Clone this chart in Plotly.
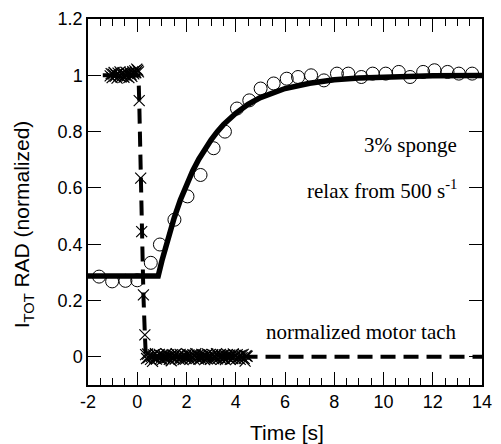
import plotly.graph_objects as go

# Fit (solid line)
fit_t = [-2.0, 0.85, 1.0, 1.25, 1.5, 1.75, 2.0, 2.25, 2.5, 2.75, 3.0, 3.25, 3.5, 4.0, 4.5, 5.0,
         6.0, 7.0, 8.0, 9.0, 10.0, 12.0, 14.0]
fit_y = [0.287, 0.287, 0.341, 0.423, 0.494, 0.557, 0.612, 0.660, 0.702, 0.739, 0.771, 0.800,
         0.825, 0.865, 0.897, 0.921, 0.953, 0.972, 0.984, 0.990, 0.994, 0.998, 0.999]

# Measured intensity (open circles)
circ_t = [-1.55, -1.02, -0.48, 0.0, 0.55, 0.92, 1.51, 2.04, 2.57, 3.10, 3.56, 4.05, 4.55,
          5.01, 5.54, 6.07, 6.53, 7.06, 7.58, 8.11, 8.57, 9.10, 9.56, 10.09, 10.62, 11.08,
          11.61, 12.07, 12.60, 13.06, 13.60]
circ_y = [0.285, 0.268, 0.270, 0.272, 0.334, 0.399, 0.487, 0.570, 0.646, 0.741, 0.800, 0.882,
          0.911, 0.953, 0.971, 0.988, 0.994, 1.000, 0.982, 1.006, 1.006, 0.994, 1.006, 1.006,
          1.012, 0.994, 1.012, 1.018, 1.012, 1.006, 1.006]

# Motor tach (crosses): before the stop, the drop, and after the stop
tach_hi_t = [-1.10, -1.06, -1.02, -0.98, -0.94, -0.90, -0.86, -0.82, -0.78, -0.74, -0.70,
             -0.66, -0.62, -0.58, -0.54, -0.50, -0.46, -0.42, -0.38, -0.34, -0.30, -0.26,
             -0.22, -0.18, -0.14, -0.10, -0.06, -0.02, 0.02, 0.05]
tach_hi_y = [0.998, 1.006, 0.992, 1.004, 1.010, 0.996, 1.002, 0.990, 1.008, 0.999, 1.012,
             0.994, 1.004, 1.009, 0.993, 1.001, 1.011, 0.997, 1.006, 0.992, 1.010, 1.003,
             0.996, 1.013, 1.005, 1.016, 1.009, 1.022, 1.018, 1.012]
tach_drop_t = [0.08, 0.14, 0.18, 0.25, 0.31]
tach_drop_y = [0.91, 0.635, 0.445, 0.22, 0.078]
tach_lo_t = [0.34, 0.38, 0.42, 0.46, 0.50, 0.54, 0.58, 0.62, 0.66, 0.70, 0.74, 0.78, 0.82,
             0.86, 0.90, 0.94, 0.98, 1.02, 1.06, 1.10, 1.14, 1.18, 1.22, 1.26, 1.30, 1.34,
             1.38, 1.42, 1.46, 1.50, 1.54, 1.58, 1.62, 1.66, 1.70, 1.74, 1.78, 1.82, 1.86,
             1.90, 1.94, 1.98, 2.02, 2.06, 2.10, 2.14, 2.18, 2.22, 2.26, 2.30, 2.34, 2.38,
             2.42, 2.46, 2.50, 2.54, 2.58, 2.62, 2.66, 2.70, 2.74, 2.78, 2.82, 2.86, 2.90,
             2.94, 2.98, 3.02, 3.06, 3.10, 3.14, 3.18, 3.22, 3.26, 3.30, 3.34, 3.38, 3.42,
             3.46, 3.50, 3.54, 3.58, 3.62, 3.66, 3.70, 3.74, 3.78, 3.82, 3.86, 3.90, 3.94,
             3.98, 4.02, 4.06, 4.10, 4.14, 4.18, 4.22, 4.26, 4.30, 4.34, 4.38, 4.42, 4.46]
tach_lo_y = [0.008, -0.006, 0.010, -0.003, 0.005, -0.009, 0.002, -0.016, 0.007, -0.004,
             0.011, -0.008, 0.003, -0.002, 0.009, -0.007, 0.004, -0.010, 0.006, 0.000,
             -0.005, 0.010, -0.003, 0.007, -0.009, 0.002, -0.014, 0.008, -0.004, 0.005,
             -0.008, 0.011, -0.002, 0.004, -0.007, 0.009, -0.005, 0.003, -0.010, 0.006,
             0.001, -0.006, 0.010, -0.003, 0.007, -0.009, 0.004, -0.001, 0.008, -0.007,
             0.002, 0.011, -0.004, 0.005, -0.008, 0.003, -0.006, 0.009, -0.002, 0.006,
             -0.010, 0.004, -0.005, 0.010, -0.003, 0.007, -0.009, 0.001, 0.008, -0.006,
             0.003, -0.004, 0.011, -0.007, 0.005, -0.002, 0.009, -0.008, 0.004, -0.005,
             0.007, -0.010, 0.002, 0.008, -0.003, 0.006, -0.009, 0.004, -0.006, 0.010,
             -0.002, 0.005, -0.007, 0.008, -0.004, 0.003, -0.009, 0.006, -0.003, 0.009,
             -0.006, -0.015, 0.004, 0.002]

# Tach trend (dashed line)
dash_t = [-1.4, 0.05, 0.08, 0.14, 0.18, 0.25, 0.31, 0.35, 14.0]
dash_y = [1.0, 1.0, 0.91, 0.635, 0.445, 0.22, 0.078, 0.0, 0.0]

x_ticks = [-2, 0, 2, 4, 6, 8, 10, 12, 14]
y_ticks = [0, 0.2, 0.4, 0.6, 0.8, 1, 1.2]

tach_t = tach_hi_t + tach_drop_t + tach_lo_t
tach_y = tach_hi_y + tach_drop_y + tach_lo_y

fig = go.Figure()
fig.add_trace(go.Scatter(x=dash_t, y=dash_y, mode="lines",
                         line=dict(color="black", width=4, dash="15px,8px")))
fig.add_trace(go.Scatter(x=tach_t, y=tach_y, mode="markers",
                         marker=dict(symbol="x-thin-open", size=11, color="black",
                                     line=dict(color="black", width=1.2))))
fig.add_trace(go.Scatter(x=circ_t, y=circ_y, mode="markers",
                         marker=dict(symbol="circle-open", size=13, color="black",
                                     line=dict(color="black", width=1))))
fig.add_trace(go.Scatter(x=fit_t, y=fit_y, mode="lines",
                         line=dict(color="black", width=5.5)))

sans = "Liberation Sans, Arial, sans-serif"
serif = "Liberation Serif, Times New Roman, serif"

fig.update_layout(
    width=501, height=444,
    margin=dict(l=88, r=9, t=17, b=59),
    paper_bgcolor="white", plot_bgcolor="white",
    showlegend=False,
    font=dict(family=sans, size=18, color="black"),
    xaxis=dict(range=[-2, 14], tickvals=x_ticks, ticktext=[str(v) for v in x_ticks],
               ticks="inside", ticklen=13, tickwidth=1.3, tickcolor="black",
               showline=True, linecolor="black", linewidth=1.5, mirror="allticks",
               showgrid=False, zeroline=False,
               minor=dict(dtick=0.5, ticks="inside", ticklen=7, tickwidth=1.3,
                          tickcolor="black", showgrid=False),
               tickfont=dict(size=18, family=sans)),
    yaxis=dict(range=[-0.1, 1.2], tickvals=y_ticks,
               ticktext=["0", "0.2", "0.4", "0.6", "0.8", "1", "1.2"],
               ticks="inside", ticklen=13, tickwidth=1.3, tickcolor="black",
               showline=True, linecolor="black", linewidth=1.5, mirror="ticks",
               showgrid=False, zeroline=False,
               tickfont=dict(size=18, family=sans)),
    annotations=[
        dict(text="Time [s]", xref="paper", yref="paper", x=0.505, y=-0.13,
             xanchor="center", yanchor="middle", showarrow=False,
             font=dict(size=21, family=sans)),
        dict(text="I<sub>TOT</sub> RAD (normalized)", xref="paper", yref="paper",
             x=-0.164, y=0.44, xanchor="center", yanchor="middle", textangle=-90,
             showarrow=False, font=dict(size=21, family=sans)),
        dict(text="3% sponge", x=13.05, y=0.752, xanchor="right", yanchor="middle",
             showarrow=False, font=dict(size=21, family=serif)),
        dict(text="relax from 500 s<sup>-1</sup>", x=13.05, y=0.593, xanchor="right",
             yanchor="middle", showarrow=False, font=dict(size=21, family=serif)),
        dict(text="normalized motor tach", x=13.05, y=0.087, xanchor="right",
             yanchor="middle", showarrow=False, font=dict(size=21, family=serif)),
    ],
)

fig.write_html("out.html", config={"displayModeBar": False},
               post_script="document.body.style.margin='0';document.body.style.padding='0';")
